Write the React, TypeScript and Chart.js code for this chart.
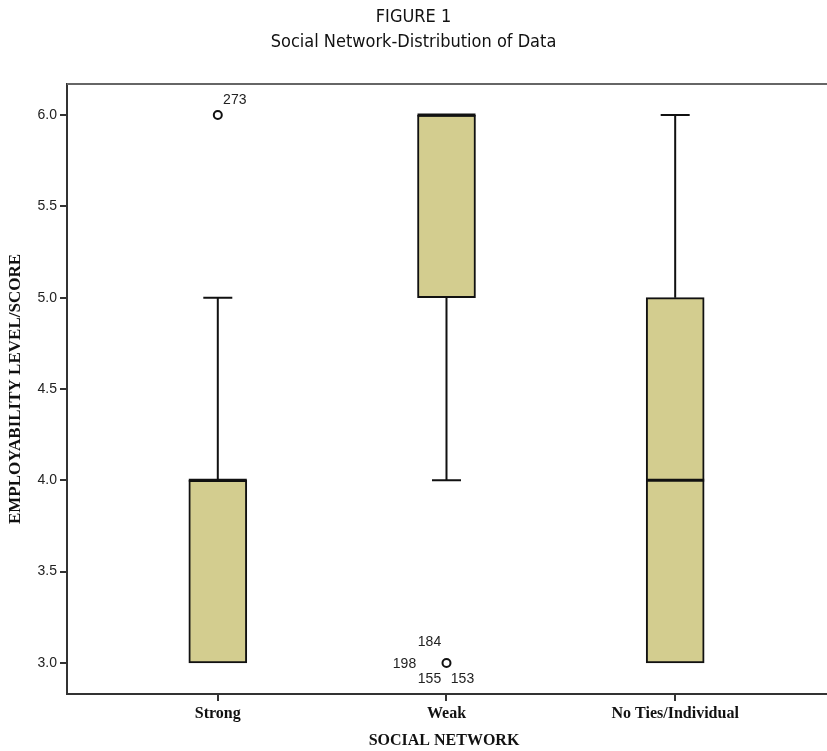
import React, { useEffect, useRef } from "react";
import { Chart, registerables } from "chart.js";

Chart.register(...registerables);

// ---- data ----
const categories = ["Strong", "Weak", "No Ties/Individual"];
const whiskerLow = [3, 4, 3];
const q1 = [3, 5, 3];
const medians = [4, 6, 4];
const q3 = [4, 6, 5];
const whiskerHigh = [5, 6, 6];
const outlierCategory = [0, 1];
const outlierValues = [6, 3];
const outlierLabels = [["273"], ["184", "198", "155", "153"]];
const yTickValues = [3.0, 3.5, 4.0, 4.5, 5.0, 5.5, 6.0];

// label placement offsets (pixels, relative to outlier point)
const outlierLabelOffsets = [
  [[17, -15]],
  [[-17, -21], [-42, 1], [-17, 16], [16, 16]],
];

const INK = "#111";
const SERIF = "'Liberation Serif', 'Times New Roman', serif";

const boxExtras = {
  id: "boxExtras",
  beforeDatasetsDraw(chart: any) {
    const { ctx, scales, chartArea } = chart;
    const x = scales.x;
    const y = scales.y;
    const meta = chart.getDatasetMeta(0);
    ctx.save();
    // top frame line
    ctx.strokeStyle = "#666";
    ctx.lineWidth = 2;
    ctx.beginPath();
    ctx.moveTo(chartArea.left, chartArea.top);
    ctx.lineTo(chart.width, chartArea.top);
    ctx.stroke();
    // whiskers
    ctx.strokeStyle = INK;
    ctx.lineWidth = 2;
    categories.forEach((_, i) => {
      const cx = x.getPixelForValue(i);
      const bw = meta.data[i] ? meta.data[i].width : 58;
      const cap = bw / 4;
      const pairs = [
        [q3[i], whiskerHigh[i]],
        [q1[i], whiskerLow[i]],
      ];
      pairs.forEach(([from, to]) => {
        if (from === to) return;
        const y0 = y.getPixelForValue(from);
        const y1 = y.getPixelForValue(to);
        ctx.beginPath();
        ctx.moveTo(cx, y0);
        ctx.lineTo(cx, y1);
        ctx.moveTo(cx - cap, y1);
        ctx.lineTo(cx + cap, y1);
        ctx.stroke();
      });
    });
    ctx.restore();
  },
  afterDatasetsDraw(chart: any) {
    const { ctx, scales } = chart;
    const x = scales.x;
    const y = scales.y;
    const meta = chart.getDatasetMeta(0);
    ctx.save();
    ctx.strokeStyle = INK;
    ctx.lineWidth = 3;
    categories.forEach((_, i) => {
      const cx = x.getPixelForValue(i);
      const bw = meta.data[i] ? meta.data[i].width : 58;
      const my = y.getPixelForValue(medians[i]);
      ctx.beginPath();
      ctx.moveTo(cx - bw / 2, my);
      ctx.lineTo(cx + bw / 2, my);
      ctx.stroke();
    });
    ctx.fillStyle = "#222";
    ctx.font = "14px 'Liberation Sans', Arial, sans-serif";
    ctx.textAlign = "center";
    ctx.textBaseline = "middle";
    outlierCategory.forEach((c, k) => {
      const px = x.getPixelForValue(c);
      const py = y.getPixelForValue(outlierValues[k]);
      outlierLabels[k].forEach((lab, j) => {
        const [dx, dy] = outlierLabelOffsets[k][j];
        ctx.fillText(lab, px + dx, py + dy);
      });
    });
    ctx.restore();
  },
  afterDraw(chart: any) {
    // extend the bottom axis line to the right edge of the figure
    const { ctx, chartArea, scales } = chart;
    const yy = Math.round(scales.x.top);
    ctx.save();
    ctx.strokeStyle = "#333";
    ctx.lineWidth = 2;
    ctx.beginPath();
    ctx.moveTo(chartArea.right - 2, yy);
    ctx.lineTo(chart.width, yy);
    ctx.stroke();
    ctx.restore();
  },
};

export default function App() {
  const ref = useRef<HTMLCanvasElement | null>(null);
  useEffect(() => {
    document.body.style.margin = "0";
    const canvas = ref.current;
    if (!canvas) return;
    const chart = new Chart(canvas, {
      type: "bar",
      data: {
        datasets: [
          {
            type: "bar",
            data: categories.map((_, i) => ({ x: i, y: [q1[i], q3[i]] })) as any,
            backgroundColor: "#D3CD8F",
            borderColor: INK,
            borderWidth: 2,
            borderSkipped: false,
            barThickness: 58,
            order: 2,
          } as any,
          {
            type: "scatter",
            data: outlierCategory.map((c, k) => ({ x: c, y: outlierValues[k] })),
            pointRadius: 4,
            pointBorderWidth: 2,
            pointBorderColor: INK,
            pointBackgroundColor: "#fff",
            order: 1,
          } as any,
        ],
      },
      options: {
        animation: false,
        responsive: false,
        events: [],
        layout: { padding: { left: 0, right: 0, top: 0, bottom: 0 } },
        plugins: {
          legend: { display: false },
          tooltip: { enabled: false },
          title: {
            display: true,
            text: ["FIGURE 1", "Social Network-Distribution of Data"],
            color: INK,
            font: {
              family: "'DejaVu Sans Condensed', 'DejaVu Sans', sans-serif",
              size: 18,
              weight: "normal",
              lineHeight: "25px",
            },
            padding: { top: 4.5, bottom: 29.5 },
          },
        },
        scales: {
          x: {
            type: "linear",
            offset: false,
            min: -0.6594,
            max: 2.6376,
            afterBuildTicks: (s: any) => {
              s.ticks = categories.map((_, i) => ({ value: i }));
            },
            afterFit: (s: any) => {
              s.height = 57;
            },
            ticks: {
              autoSkip: false,
              maxRotation: 0,
              padding: 3,
              color: INK,
              font: { family: SERIF, weight: "bold", size: 16 },
              callback: (v: any) => categories[Math.round(Number(v))] ?? "",
            },
            grid: { drawOnChartArea: false, offset: false, color: "#333", lineWidth: 2, tickLength: 7 },
            border: { display: true, color: "#333", width: 2 },
            title: {
              display: true,
              text: "SOCIAL NETWORK",
              color: INK,
              font: { family: SERIF, weight: "bold", size: 16 },
              padding: { top: 0, bottom: 1 },
            },
          },
          y: {
            type: "linear",
            min: 2.83,
            max: 6.17,
            afterBuildTicks: (s: any) => {
              s.ticks = yTickValues.map((v) => ({ value: v }));
            },
            afterFit: (s: any) => {
              s.width = 67;
            },
            ticks: {
              padding: 3,
              color: "#222",
              font: { family: "'Liberation Sans', Arial, sans-serif", size: 14 },
              callback: (v: any) => Number(v).toFixed(1),
            },
            grid: { drawOnChartArea: false, color: "#333", lineWidth: 2, tickLength: 7 },
            border: { display: true, color: "#333", width: 2 },
            title: {
              display: true,
              text: "EMPLOYABILITY LEVEL/SCORE",
              color: INK,
              font: { family: SERIF, weight: "bold", size: 17 },
              padding: { top: 5, bottom: 0 },
            },
          },
        },
      } as any,
      plugins: [boxExtras],
    });
    return () => chart.destroy();
  }, []);
  return (
    <div style={{ width: 827, height: 751 }}>
      <canvas ref={ref} width={827} height={751} style={{ display: "block" }} />
    </div>
  );
}
